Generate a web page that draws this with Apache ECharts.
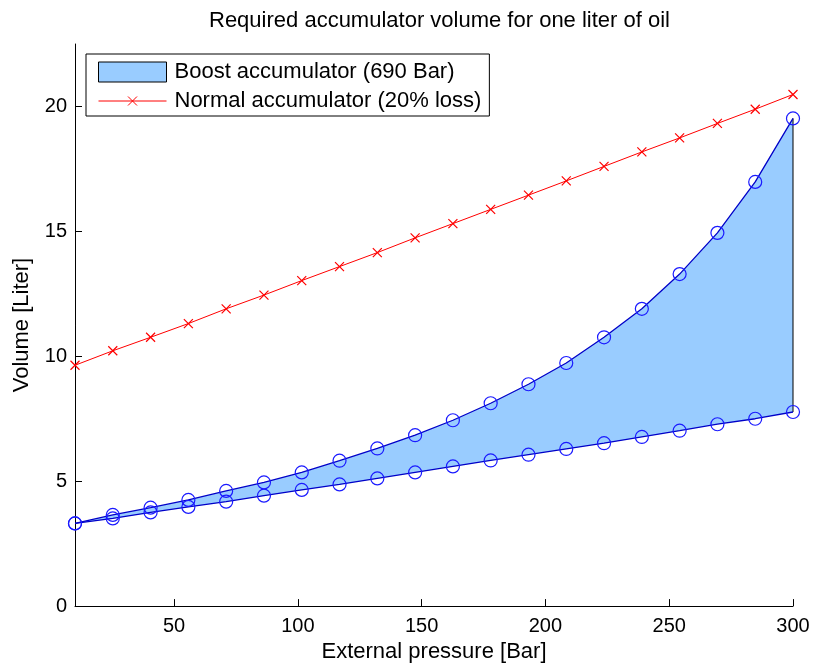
<!DOCTYPE html>
<html>
<head>
<meta charset="utf-8">
<script src="https://cdn.jsdelivr.net/npm/echarts@6/dist/echarts.min.js"></script>
<style>html,body{margin:0;padding:0;background:#fff}#c{width:813px;height:668px}</style>
</head>
<body>
<div id="c"></div>
<script>
// External pressure [Bar]
const pressure = [10, 25.26, 40.53, 55.79, 71.05, 86.32, 101.58, 116.84, 132.11, 147.37,
  162.63, 177.89, 193.16, 208.42, 223.68, 238.95, 254.21, 269.47, 284.74, 300];
// Boost accumulator upper bound [Liter]
const boostUpper = [3.31, 3.65, 3.94, 4.25, 4.61, 4.95, 5.35, 5.82, 6.31, 6.84,
  7.44, 8.12, 8.88, 9.73, 10.76, 11.90, 13.29, 14.94, 16.98, 19.52];
// Boost accumulator lower bound [Liter]
const boostLower = [3.31, 3.51, 3.75, 3.97, 4.18, 4.42, 4.65, 4.87, 5.11, 5.35,
  5.59, 5.83, 6.06, 6.29, 6.52, 6.77, 7.02, 7.28, 7.50, 7.77];
// Normal accumulator (20% loss) [Liter]
const normalAcc = [9.64, 10.22, 10.76, 11.31, 11.90, 12.45, 13.03, 13.59, 14.15, 14.74,
  15.31, 15.88, 16.45, 17.02, 17.60, 18.18, 18.74, 19.32, 19.89, 20.48];
const xTicks = [50, 100, 150, 200, 250, 300];
const yTicks = [0, 5, 10, 15, 20];

const FONT = "'Liberation Sans', Arial, Helvetica, sans-serif";
const boostName = 'Boost accumulator (690 Bar)';
const normalName = 'Normal accumulator (20% loss)';
const pairs = (ys) => pressure.map((x, i) => [x, ys[i]]);

const chart = echarts.init(document.getElementById('c'), null, {renderer: 'canvas'});
chart.setOption({
  animation: false,
  backgroundColor: '#fff',
  textStyle: {fontFamily: FONT},
  title: {
    text: 'Required accumulator volume for one liter of oil',
    left: 204, top: 5,
    textStyle: {fontFamily: FONT, fontSize: 22, fontWeight: 'normal', color: '#000'}
  },
  grid: {left: 75, right: 20, top: 44, bottom: 59, containLabel: false},
  legend: {
    orient: 'vertical', left: 86, top: 54,
    padding: [7, 8, 4, 12],
    itemWidth: 68, itemHeight: 20, itemGap: 7,
    backgroundColor: '#fff', borderColor: '#000', borderWidth: 1, borderRadius: 0,
    textStyle: {fontFamily: FONT, fontSize: 22, color: '#000', padding: [0, 0, 0, 3]},
    data: [
      {name: boostName, icon: 'rect', itemStyle: {color: '#99ccff', borderColor: '#000', borderWidth: 1}},
      {name: normalName, icon: 'path://M0,5L68,5M29.5,0.5L38.5,9.5M38.5,0.5L29.5,9.5',
       itemStyle: {color: 'rgba(0,0,0,0)', borderColor: '#ff0000', borderWidth: 1}}
    ]
  },
  xAxis: {
    type: 'value', min: 10, max: 300,
    name: 'External pressure [Bar]', nameLocation: 'middle', nameGap: 29,
    nameTextStyle: {fontFamily: FONT, fontSize: 22, color: '#000'},
    axisLine: {show: true, lineStyle: {color: '#000', width: 1}},
    axisTick: {show: true, inside: true, length: 7, lineStyle: {color: '#000'}, customValues: xTicks},
    axisLabel: {fontFamily: FONT, fontSize: 20, color: '#000', margin: 10, customValues: xTicks},
    splitLine: {show: false}
  },
  yAxis: {
    type: 'value', min: 0, max: 22.5,
    name: 'Volume [Liter]', nameLocation: 'middle', nameGap: 42, nameRotate: 90,
    nameTextStyle: {fontFamily: FONT, fontSize: 22, color: '#000'},
    axisLine: {show: true, lineStyle: {color: '#000', width: 1}},
    axisTick: {show: true, inside: true, length: 7, lineStyle: {color: '#000'}, customValues: yTicks},
    axisLabel: {fontFamily: FONT, fontSize: 20, color: '#000', margin: 8, customValues: yTicks},
    splitLine: {show: false}
  },
  series: [
    {
      name: boostName,
      type: 'custom',
      z: 1,
      data: [[0]],
      itemStyle: {color: '#99ccff'},
      renderItem: function (params, api) {
        const up = pressure.map((x, i) => api.coord([x, boostUpper[i]]));
        const lo = pressure.map((x, i) => api.coord([x, boostLower[i]])).reverse();
        const n = pressure.length - 1;
        const pU = api.coord([pressure[n], boostUpper[n]]);
        const pL = api.coord([pressure[n], boostLower[n]]);
        return {
          type: 'group',
          children: [
            {type: 'polygon', shape: {points: up.concat(lo)}, style: {fill: '#99ccff', stroke: null}},
            {type: 'line', shape: {x1: pL[0], y1: pL[1], x2: pU[0], y2: pU[1]}, style: {stroke: '#000', lineWidth: 1}}
          ]
        };
      }
    },
    {
      name: 'upper', type: 'line', z: 3, data: pairs(boostUpper),
      symbol: 'circle', symbolSize: 13, showAllSymbol: true,
      lineStyle: {color: '#0000c8', width: 1.3},
      itemStyle: {color: 'rgba(0,0,0,0)', borderColor: '#1a1aff', borderWidth: 1.2},
      emphasis: {disabled: true}
    },
    {
      name: 'lower', type: 'line', z: 3, data: pairs(boostLower),
      symbol: 'circle', symbolSize: 13, showAllSymbol: true,
      lineStyle: {color: '#0000c8', width: 1.3},
      itemStyle: {color: 'rgba(0,0,0,0)', borderColor: '#1a1aff', borderWidth: 1.2},
      emphasis: {disabled: true}
    },
    {
      name: normalName, type: 'line', z: 3, data: pairs(normalAcc),
      symbol: 'path://M0,0L10,10M10,0L0,10', symbolSize: 9, showAllSymbol: true,
      lineStyle: {color: '#ff0000', width: 1},
      itemStyle: {color: 'rgba(0,0,0,0)', borderColor: '#ff0000', borderWidth: 1.2},
      emphasis: {disabled: true}
    }
  ]
});
</script>
</body>
</html>
